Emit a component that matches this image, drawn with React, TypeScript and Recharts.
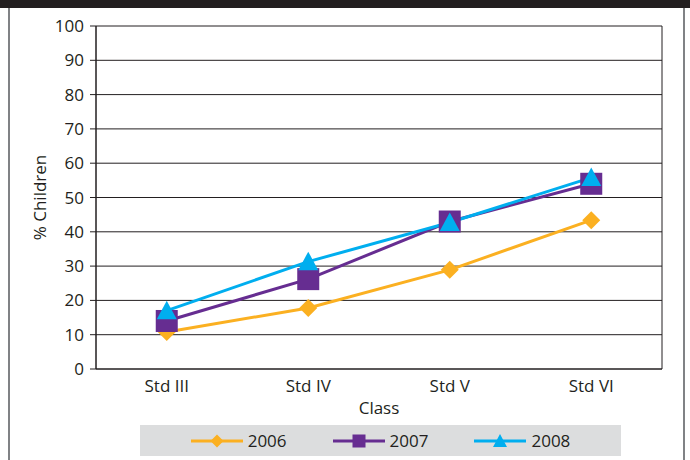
import React from "react";
import { LineChart, Line, XAxis, YAxis, CartesianGrid } from "recharts";

// values
const classes = ["Std III", "Std IV", "Std V", "Std VI"];
const years = ["2006", "2007", "2008"];
const values2006 = [10.8, 17.8, 28.9, 43.4];
const values2007 = [14.0, 26.2, 43.0, 54.0];
const values2008 = [17.0, 31.3, 42.7, 55.8];
const yTicks = [0, 10, 20, 30, 40, 50, 60, 70, 80, 90, 100];
const bandEdges = [0, 1, 2, 3, 4];
const bandCentres = [0.5, 1.5, 2.5, 3.5];

const colors = ["#fbb021", "#662d91", "#00aeef"];
const ink = "#231f20";
const font = "'Open Sans', sans-serif";

const data = classes.map((cls, i) => ({
  pos: i + 0.5,
  cls,
  y2006: values2006[i],
  y2007: values2007[i],
  y2008: values2008[i],
}));

type MarkProps = { cx: number; cy: number; size: number; fill: string };

const Diamond = ({ cx, cy, size, fill }: MarkProps) => (
  <path d={`M${cx},${cy - size}L${cx + size},${cy}L${cx},${cy + size}L${cx - size},${cy}Z`} fill={fill} />
);
const Square = ({ cx, cy, size, fill }: MarkProps) => (
  <rect x={cx - size} y={cy - size} width={size * 2} height={size * 2} fill={fill} />
);
const Triangle = ({ cx, cy, size, fill }: MarkProps) => (
  <path d={`M${cx},${cy - size}L${cx + size},${cy + size * 0.85}L${cx - size},${cy + size * 0.85}Z`} fill={fill} />
);

const marks = [Diamond, Square, Triangle];
const markSizes = [9, 11, 10];

const makeDot = (idx: number) => (p: any) => {
  const Mark = marks[idx];
  if (p.cx == null || p.cy == null) return <g key={p.index} />;
  return <Mark key={p.index} cx={p.cx} cy={p.cy} size={markSizes[idx]} fill={colors[idx]} />;
};

function LegendBox() {
  const legendSizes = [6.5, 6.5, 7];
  return (
    <div
      style={{
        position: "absolute",
        left: 140,
        top: 425,
        width: 481,
        height: 31,
        background: "#dcddde",
        display: "flex",
        alignItems: "center",
        justifyContent: "center",
        gap: 46,
        fontFamily: font,
        fontSize: 17,
        color: ink,
      }}
    >
      {years.map((y, i) => {
        const Mark = marks[i];
        return (
          <div key={y} style={{ display: "flex", alignItems: "center" }}>
            <svg width={52} height={20}>
              <line x1={0} y1={10} x2={52} y2={10} stroke={colors[i]} strokeWidth={3} />
              <Mark cx={26} cy={10} size={legendSizes[i]} fill={colors[i]} />
            </svg>
            <span style={{ marginLeft: 5 }}>{y}</span>
          </div>
        );
      })}
    </div>
  );
}

export default function App() {
  return (
    <div style={{ position: "absolute", left: 0, top: 0, width: 690, height: 460, background: "#fff" }}>
      <div style={{ position: "absolute", left: 0, top: 0, width: 690, height: 8, background: ink }} />
      <div style={{ position: "absolute", left: 8, top: 8, width: 2, height: 452, background: "#808285" }} />
      <div style={{ position: "absolute", left: 683, top: 8, width: 2, height: 452, background: "#808285" }} />
      <div style={{ position: "absolute", left: 0, top: 0 }}>
        <LineChart width={690} height={460} data={data} margin={{ top: 26, right: 28, bottom: 40, left: 0 }}>
          <CartesianGrid xAxisId="edge" stroke={ink} strokeWidth={1} />
          <XAxis
            xAxisId="edge"
            type="number"
            dataKey="pos"
            domain={[0, 4]}
            ticks={bandEdges}
            tick={false}
            height={6}
            tickSize={6}
            stroke={ink}
            axisLine={{ stroke: ink }}
            tickLine={{ stroke: ink }}
          />
          <XAxis
            xAxisId="label"
            type="number"
            dataKey="pos"
            domain={[0, 4]}
            ticks={bandCentres}
            tickFormatter={(v: number) => classes[Math.floor(v)]}
            axisLine={false}
            tickLine={false}
            tickSize={0}
            tickMargin={5}
            height={45}
            tick={{ fill: ink, fontSize: 17, fontFamily: font }}
            label={{ value: "Class", position: "insideBottom", offset: 6, fill: ink, fontSize: 17, fontFamily: font }}
          />
          <YAxis
            width={96}
            domain={[0, 100]}
            ticks={yTicks}
            interval={0}
            tickSize={6}
            tickMargin={6}
            stroke={ink}
            tick={{ fill: ink, fontSize: 17, fontFamily: font }}
            label={{
              value: "% Children",
              angle: -90,
              position: "insideLeft",
              offset: 40,
              fill: ink,
              fontSize: 17,
              fontFamily: font,
              style: { textAnchor: "middle" },
            }}
          />
          <Line xAxisId="label" dataKey="y2006" stroke={colors[0]} strokeWidth={3} dot={makeDot(0)} isAnimationActive={false} />
          <Line xAxisId="label" dataKey="y2007" stroke={colors[1]} strokeWidth={3} dot={makeDot(1)} isAnimationActive={false} />
          <Line xAxisId="label" dataKey="y2008" stroke={colors[2]} strokeWidth={3} dot={makeDot(2)} isAnimationActive={false} />
        </LineChart>
      </div>
      <LegendBox />
    </div>
  );
}
